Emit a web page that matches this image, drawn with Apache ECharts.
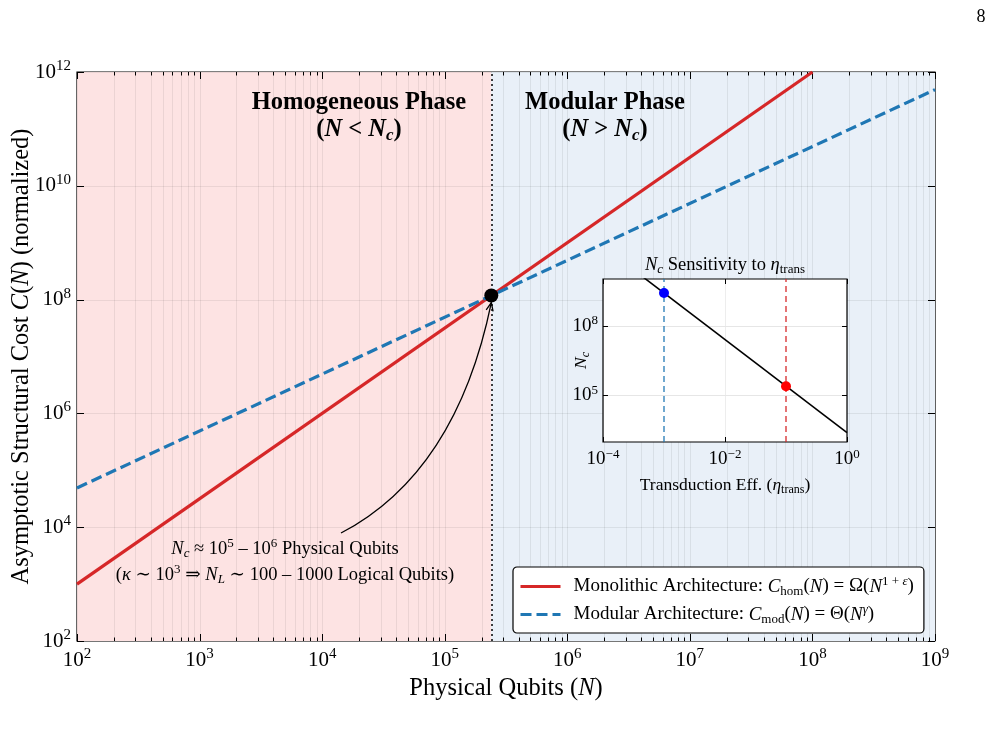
<!DOCTYPE html>
<html>
<head>
<meta charset="utf-8">
<script src="https://cdn.jsdelivr.net/npm/echarts@6/dist/echarts.min.js"></script>
<style>html,body{margin:0;padding:0;background:#fff}#main{width:992px;height:739px}</style>
</head>
<body>
<div id="main"></div>
<script>
// main axes
var N_MIN = 1e2, N_MAX = 1e9;
var COST_MIN = 1e2, COST_MAX = 1e12;
var nDecades = [1e2, 1e3, 1e4, 1e5, 1e6, 1e7, 1e8, 1e9];
var costTicks = [1e2, 1e4, 1e6, 1e8, 1e10, 1e12];
// cost curves, [N, C(N)]
var monolithic = [[1e2, 1e3], [1e8, 1e12]];
var modular = [[1e2, 4.9e4], [1e9, 4.9e11]];
var crossover = [[2.4e5, 1.18e8]];
// inset: N_c vs eta_trans
var ETA_MIN = 1e-4, ETA_MAX = 1, NC_MIN = 1e3, NC_MAX = 1e10;
var etaTicks = [1e-4, 1e-2, 1];
var ncTicks = [1e5, 1e8];
var sensitivity = [[1e-4, 2.5e11], [1, 2.5e3]];
var etaMarked = [[1e-3, 2.5e9], [1e-1, 2.5e5]];

var SERIF = '"Liberation Serif", "DejaVu Serif", serif';
var GRID_COLOR = 'rgba(0,0,0,0.07)';
var dotColors = ['#0000ff', '#ff0000'];
var markColors = ['rgba(31,119,180,0.8)', 'rgba(214,39,40,0.8)'];

// minor ticks 2..9 per decade
var nMinor = [];
for (var d = 0; d < nDecades.length - 1; d++) {
    for (var k = 2; k <= 9; k++) nMinor.push(k * nDecades[d]);
}

function mathRich(fs, bold) {
    var sm = Math.round(fs * 0.7);
    var w = bold ? 'bold' : 'normal';
    var base = {fontFamily: SERIF, color: '#000', fontWeight: w};
    function st(o) { return Object.assign({}, base, o); }
    return {
        r: st({fontSize: fs}),
        i: st({fontSize: fs, fontStyle: 'italic'}),
        sub: st({fontSize: sm, padding: [Math.round(fs * 0.5), 0, 0, 0]}),
        subi: st({fontSize: sm, fontStyle: 'italic', padding: [Math.round(fs * 0.5), 0, 0, 0]}),
        sup: st({fontSize: sm, padding: [0, 0, Math.round(fs * 0.55), 0]}),
        supi: st({fontSize: sm, fontStyle: 'italic', padding: [0, 0, Math.round(fs * 0.55), 0]})
    };
}

function powLabel(v) {
    var e = Math.round(Math.log10(v));
    return '{r|10}{sup|' + (e < 0 ? '\u2212' + (-e) : e) + '}';
}

function xTicks(xi, ticks, yr, z) {
    return {
        type: 'custom', xAxisIndex: xi, yAxisIndex: xi, z: z, silent: true,
        data: ticks.map(function (t) { return [t[0], yr[0], t[1], t[2]]; }),
        renderItem: function (params, api) {
            var b = api.coord([api.value(0), yr[0]]);
            var t = api.coord([api.value(0), yr[1]]);
            var len = api.value(2);
            var x = Math.round(b[0]) + 0.5;
            var kids = [];
            if (api.value(3)) kids.push({type: 'line', shape: {x1: x, y1: b[1], x2: x, y2: t[1]}, style: {stroke: GRID_COLOR, lineWidth: 1}});
            kids.push({type: 'line', shape: {x1: x, y1: b[1], x2: x, y2: b[1] - len}, style: {stroke: '#000', lineWidth: 1}});
            kids.push({type: 'line', shape: {x1: x, y1: t[1], x2: x, y2: t[1] + len}, style: {stroke: '#000', lineWidth: 1}});
            return {type: 'group', children: kids};
        }
    };
}

function yTicks(yi, ticks, xr, z, color) {
    return {
        type: 'custom', xAxisIndex: yi, yAxisIndex: yi, z: z, silent: true,
        data: ticks.map(function (t) { return [xr[0], t[0], t[1], t[2]]; }),
        renderItem: function (params, api) {
            var l = api.coord([xr[0], api.value(1)]);
            var r = api.coord([xr[1], api.value(1)]);
            var len = api.value(2);
            var y = Math.round(l[1]) + 0.5;
            var kids = [];
            if (api.value(3)) kids.push({type: 'line', shape: {x1: l[0], y1: y, x2: r[0], y2: y}, style: {stroke: color || GRID_COLOR, lineWidth: 1}});
            kids.push({type: 'line', shape: {x1: l[0], y1: y, x2: l[0] + len, y2: y}, style: {stroke: '#000', lineWidth: 1}});
            kids.push({type: 'line', shape: {x1: r[0], y1: y, x2: r[0] - len, y2: y}, style: {stroke: '#000', lineWidth: 1}});
            return {type: 'group', children: kids};
        }
    };
}

var mainXTicks = nDecades.map(function (v) { return [v, 7, 1]; })
    .concat(nMinor.map(function (v) { return [v, 3.5, 1]; }));
var mainYTicks = costTicks.map(function (v) { return [v, 7, 1]; });
var insetXTicks = etaTicks.map(function (v) { return [v, 5, 1]; });
var insetYTicks = ncTicks.map(function (v) { return [v, 5, 1]; });

var phases = [[N_MIN, crossover[0][0]], [crossover[0][0], N_MAX]];
var phaseColors = ['#fde3e3', '#e9f0f8'];

var legendText = {
    'Monolithic Architecture': 'Monolithic Architecture: {i|C}{sub|hom}({i|N}) = \u03a9({i|N}{sup|1 + }{supi|\u03b5})',
    'Modular Architecture': 'Modular Architecture: {i|C}{sub|mod}({i|N}) = \u0398({i|N}{supi|\u03b3})'
};

var chart = echarts.init(document.getElementById('main'));
var option = {
    animation: false,
    backgroundColor: '#fff',
    textStyle: {fontFamily: SERIF, color: '#000'},
    grid: [
        {left: 77, top: 72, width: 858, height: 569, show: true, borderColor: '#000', borderWidth: 1.2,
            backgroundColor: 'transparent', containLabel: false, outerBoundsMode: 'none'},
        {left: 603, top: 279, width: 244, height: 163, show: true, borderColor: '#000', borderWidth: 1.2,
            backgroundColor: '#fff', z: 10, containLabel: false, outerBoundsMode: 'none'}
    ],
    legend: {
        left: 513, top: 567, orient: 'vertical', z: 30,
        backgroundColor: '#fff', borderColor: '#000', borderWidth: 1.2, borderRadius: 4,
        padding: [8, 10, 7, 6], itemGap: 5, itemWidth: 40, itemHeight: 14,
        itemStyle: {opacity: 0},
        lineStyle: {width: 3},
        data: ['Monolithic Architecture', 'Modular Architecture'],
        formatter: function (name) { return legendText[name]; },
        textStyle: {fontFamily: SERIF, fontSize: 19, color: '#000', padding: [0, 0, 0, 8], rich: mathRich(19)}
    },
    xAxis: [
        {type: 'log', gridIndex: 0, min: N_MIN, max: N_MAX, interval: 1,
            axisLine: {show: false}, axisTick: {show: false}, splitLine: {show: false},
            axisLabel: {formatter: powLabel, margin: 6, rich: mathRich(21)},
            name: 'Physical Qubits ({i|N})', nameLocation: 'middle', nameGap: 35, nameMoveOverlap: false,
            nameTextStyle: {fontFamily: SERIF, fontSize: 24.5, color: '#000', rich: mathRich(24.5)}},
        {type: 'log', gridIndex: 1, min: ETA_MIN, max: ETA_MAX, interval: 2, z: 12,
            axisLine: {show: false}, axisTick: {show: false}, splitLine: {show: false},
            axisLabel: {formatter: powLabel, margin: 6, rich: mathRich(19)},
            name: 'Transduction Eff. ({i|\u03b7}{sub|trans})', nameLocation: 'middle', nameGap: 33, nameMoveOverlap: false,
            nameTextStyle: {fontFamily: SERIF, fontSize: 17.5, color: '#000', rich: mathRich(17.5)}}
    ],
    yAxis: [
        {type: 'log', gridIndex: 0, min: COST_MIN, max: COST_MAX, interval: 2,
            axisLine: {show: false}, axisTick: {show: false}, splitLine: {show: false},
            axisLabel: {formatter: powLabel, margin: 6, rich: mathRich(21)},
            name: 'Asymptotic Structural Cost {i|C}({i|N}) (normalized)', nameLocation: 'middle', nameRotate: 90,
            nameGap: 43, nameMoveOverlap: false,
            nameTextStyle: {fontFamily: SERIF, fontSize: 24.5, color: '#000', rich: mathRich(24.5)}},
        {type: 'log', gridIndex: 1, min: NC_MIN, max: NC_MAX, interval: 1, z: 12,
            axisLine: {show: false}, axisTick: {show: false}, splitLine: {show: false},
            axisLabel: {margin: 5, rich: mathRich(19), formatter: function (v) {
                var e = Math.round(Math.log10(v));
                return ncTicks.some(function (t) { return Math.round(Math.log10(t)) === e; }) ? powLabel(v) : '';
            }},
            name: '{i|N}{subi|c}', nameLocation: 'middle', nameRotate: 90, nameGap: 11, nameMoveOverlap: false,
            nameTextStyle: {fontFamily: SERIF, fontSize: 17.5, color: '#000', rich: mathRich(17.5)}}
    ],
    series: [
        {
            type: 'custom', xAxisIndex: 0, yAxisIndex: 0, z: 0, silent: true,
            data: phases,
            renderItem: function (params, api) {
                var p0 = api.coord([api.value(0), COST_MAX]);
                var p1 = api.coord([api.value(1), COST_MIN]);
                return {type: 'rect', shape: {x: p0[0], y: p0[1], width: p1[0] - p0[0], height: p1[1] - p0[1]},
                    style: {fill: phaseColors[params.dataIndex]}};
            }
        },
        xTicks(0, mainXTicks, [COST_MIN, COST_MAX], 1),
        yTicks(0, mainYTicks, [N_MIN, N_MAX], 1),
        {
            name: 'Monolithic Architecture', type: 'line', xAxisIndex: 0, yAxisIndex: 0, z: 4,
            data: monolithic, symbol: 'none', lineStyle: {color: '#d62728', width: 3.2}, itemStyle: {color: '#d62728'}
        },
        {
            name: 'Modular Architecture', type: 'line', xAxisIndex: 0, yAxisIndex: 0, z: 4,
            data: modular, symbol: 'none', lineStyle: {color: '#1f77b4', width: 3.2, type: [11, 5]}, itemStyle: {color: '#1f77b4'}
        },
        {
            type: 'scatter', xAxisIndex: 0, yAxisIndex: 0, z: 6, data: crossover, symbolSize: 14,
            itemStyle: {color: '#000', opacity: 1},
            markLine: {silent: true, symbol: 'none', label: {show: false}, z: 3,
                lineStyle: {color: '#000', type: [2, 3], width: 1.5},
                data: [{xAxis: crossover[0][0]}]}
        },
        // inset
        xTicks(1, insetXTicks, [NC_MIN, NC_MAX], 11),
        yTicks(1, insetYTicks, [ETA_MIN, ETA_MAX], 11, '#e6e6e6'),
        {
            // dashed verticals at the marked efficiencies
            type: 'custom', xAxisIndex: 1, yAxisIndex: 1, z: 12, silent: true,
            data: etaMarked,
            renderItem: function (params, api) {
                var b = api.coord([api.value(0), NC_MIN]);
                var t = api.coord([api.value(0), NC_MAX]);
                return {type: 'line', shape: {x1: b[0], y1: b[1], x2: t[0], y2: t[1]},
                    style: {stroke: markColors[params.dataIndex], lineWidth: 1.6, lineDash: [6, 4]}};
            }
        },
        {
            type: 'line', xAxisIndex: 1, yAxisIndex: 1, z: 13, data: sensitivity, symbol: 'none',
            lineStyle: {color: '#000', width: 1.6}, clip: true
        },
        {
            type: 'scatter', xAxisIndex: 1, yAxisIndex: 1, z: 14, data: etaMarked, symbolSize: 10,
            itemStyle: {opacity: 1, color: function (p) { return dotColors[p.dataIndex]; }}
        }
    ]
};
chart.setOption(option);

// annotations
var dot = chart.convertToPixel({gridIndex: 0}, crossover[0]);
var tip = [dot[0], dot[1] + 7];
var start = [341, 533];
var ctrl = [tip[0] - 35, tip[1] + 170];
var dx = tip[0] - ctrl[0], dy = tip[1] - ctrl[1], dl = Math.sqrt(dx * dx + dy * dy);
dx /= dl; dy /= dl;
function wing(a) {
    var c = Math.cos(a), s = Math.sin(a);
    return [tip[0] - 9 * (dx * c - dy * s), tip[1] - 9 * (dx * s + dy * c)];
}
var w1 = wing(0.4), w2 = wing(-0.4);

function txt(x, y, str, fs, bold, extra) {
    return Object.assign({type: 'text', x: x, y: y, z: 40,
        style: {text: str, fontFamily: SERIF, fontSize: fs, fontWeight: bold ? 'bold' : 'normal', fill: '#000',
            align: 'center', verticalAlign: 'middle', rich: mathRich(fs, bold)}}, extra || {});
}

chart.setOption({
    graphic: [
        {type: 'bezierCurve', z: 20, shape: {x1: start[0], y1: start[1], x2: tip[0], y2: tip[1], cpx1: ctrl[0], cpy1: ctrl[1]},
            style: {stroke: '#000', lineWidth: 1.3, fill: null}},
        {type: 'polyline', z: 20, shape: {points: [w1, tip, w2]}, style: {stroke: '#000', lineWidth: 1.3, fill: null}},
        txt(285, 549, '{i|N}{subi|c} \u2248 10{sup|5} \u2013 10{sup|6} Physical Qubits', 18.5),
        txt(285, 575, '({i|\u03ba} \u223c 10{sup|3} \u21d2 {i|N}{subi|L} \u223c 100 \u2013 1000 Logical Qubits)', 18.5),
        txt(359, 103, 'Homogeneous Phase', 24.5, true),
        txt(359, 130, '({i|N} < {i|N}{subi|c})', 24.5, true),
        txt(605, 103, 'Modular Phase', 24.5, true),
        txt(605, 130, '({i|N} > {i|N}{subi|c})', 24.5, true),
        txt(725, 265, '{i|N}{subi|c} Sensitivity to {i|\u03b7}{sub|trans}', 18.5),
        txt(981, 17, '8', 18)
    ]
});
</script>
</body>
</html>
